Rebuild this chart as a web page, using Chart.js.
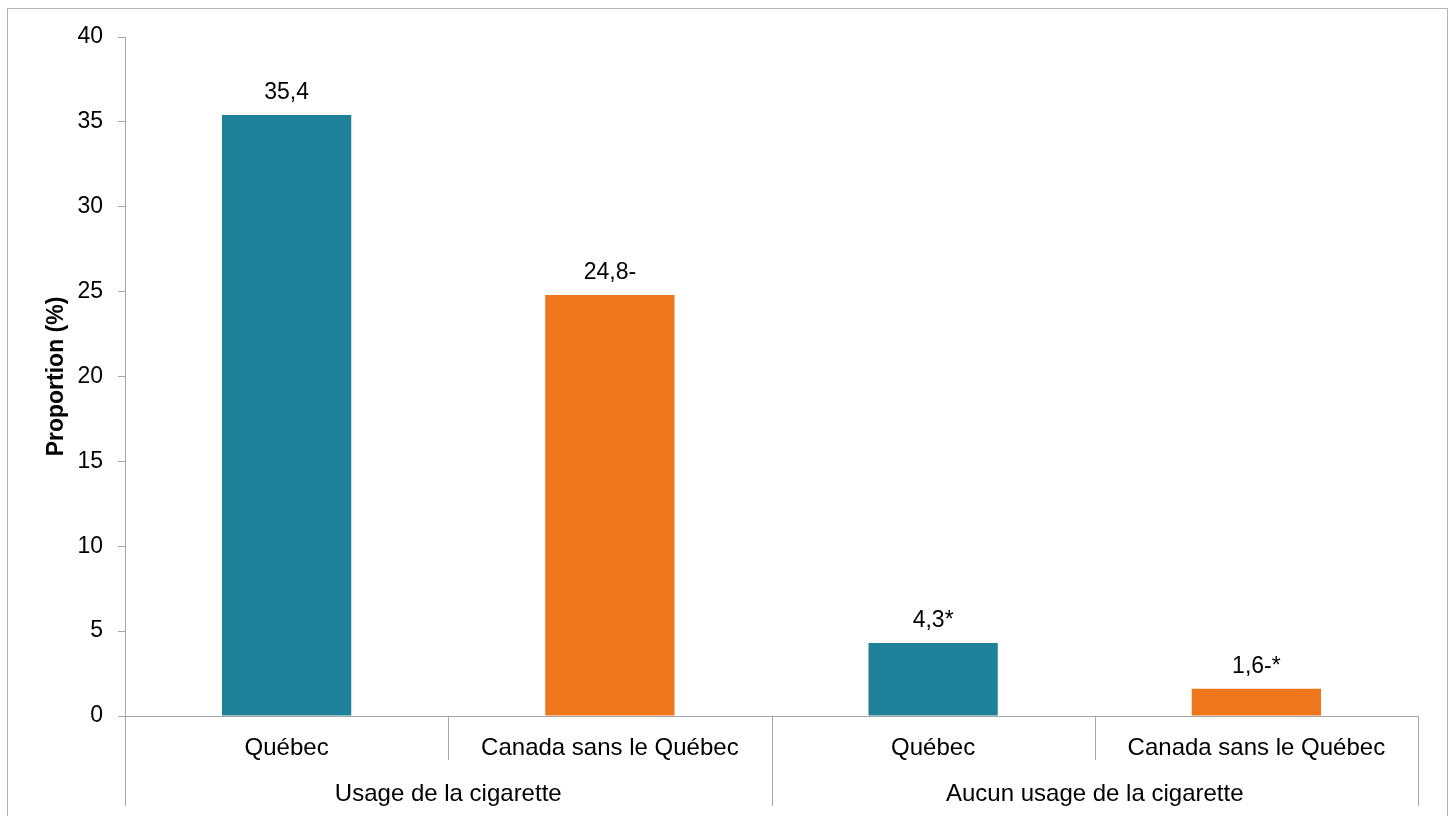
<!DOCTYPE html>
<html>
<head>
<meta charset="utf-8">
<script src="https://cdn.jsdelivr.net/npm/chart.js"></script>
<style>
  body { margin: 0; background: #fff; }
</style>
</head>
<body>
<canvas id="myChart" width="1450" height="816"></canvas>
<script>
// data
const categories = ['Québec', 'Canada sans le Québec', 'Québec', 'Canada sans le Québec'];
const groups = ['Usage de la cigarette', 'Aucun usage de la cigarette'];
const values = [35.4, 24.8, 4.3, 1.6];
const valueLabels = ['35,4', '24,8-', '4,3*', '1,6-*'];
const yTicks = [0, 5, 10, 15, 20, 25, 30, 35, 40];

const teal = 'rgb(30,129,153)';
const orange = 'rgb(239,118,27)';
const lineGray = '#a6a6a6';
const font = '"Liberation Sans", Arial, Helvetica, sans-serif';

// frame around the whole chart
const framePlugin = {
  id: 'frame',
  beforeDraw(chart) {
    const c = chart.ctx;
    c.save();
    c.strokeStyle = '#b5b5b5';
    c.lineWidth = 1;
    c.strokeRect(7.5, 8.5, 1440, 830);
    c.restore();
  }
};

// value labels above bars
const valueLabelPlugin = {
  id: 'valueLabels',
  afterDatasetsDraw(chart) {
    const c = chart.ctx;
    const meta = chart.getDatasetMeta(0);
    c.save();
    c.font = '23px ' + font;
    c.fillStyle = '#000';
    c.textAlign = 'center';
    c.textBaseline = 'alphabetic';
    meta.data.forEach((bar, i) => {
      c.fillText(valueLabels[i], bar.x, bar.y - 16);
    });
    c.restore();
  }
};

// two-level category axis
const groupAxisPlugin = {
  id: 'groupAxis',
  afterDraw(chart) {
    const c = chart.ctx;
    const x = chart.scales.x;
    const area = chart.chartArea;
    const bottom = area.bottom;
    const n = categories.length;
    const w = (area.right - area.left) / n;
    c.save();
    c.strokeStyle = lineGray;
    c.lineWidth = 1;
    for (let i = 0; i <= n; i++) {
      const px = Math.round(area.left + i * w) + 0.5;
      const len = (i % 2 === 0) ? 90 : 44;
      c.beginPath();
      c.moveTo(px, bottom);
      c.lineTo(px, bottom + len);
      c.stroke();
    }
    c.font = '24px ' + font;
    c.fillStyle = '#000';
    c.textAlign = 'center';
    c.textBaseline = 'middle';
    categories.forEach((lab, i) => {
      c.fillText(lab, x.getPixelForValue(i), bottom + 32);
    });
    groups.forEach((lab, g) => {
      const cx = area.left + (g * 2 + 1) * w;
      c.fillText(lab, cx, bottom + 78);
    });
    c.restore();
  }
};

new Chart(document.getElementById('myChart'), {
  type: 'bar',
  data: {
    labels: categories,
    datasets: [{
      data: values,
      backgroundColor: [teal, orange, teal, orange],
      categoryPercentage: 1,
      barPercentage: 0.4
    }]
  },
  options: {
    responsive: false,
    animation: false,
    layout: { padding: { top: 37, right: 32, left: 0, bottom: 0 } },
    plugins: {
      legend: { display: false },
      tooltip: { enabled: false }
    },
    scales: {
      x: {
        offset: true,
        ticks: { display: false },
        grid: { display: false },
        border: { display: true, color: lineGray },
        afterFit(scale) { scale.height = 100; }
      },
      y: {
        min: 0,
        max: 40,
        afterBuildTicks(scale) { scale.ticks = yTicks.map(v => ({ value: v })); },
        ticks: {
          font: { family: font, size: 23 },
          color: '#000',
          padding: 15
        },
        grid: { drawOnChartArea: false, tickLength: 7, color: lineGray },
        border: { display: true, color: lineGray },
        title: {
          display: true,
          text: 'Proportion (%)',
          color: '#000',
          font: { family: font, size: 23, weight: 'bold' },
          padding: { top: 43, bottom: 0 }
        },
        afterFit(scale) { scale.width = 125; }
      }
    }
  },
  plugins: [framePlugin, valueLabelPlugin, groupAxisPlugin]
});
</script>
</body>
</html>
